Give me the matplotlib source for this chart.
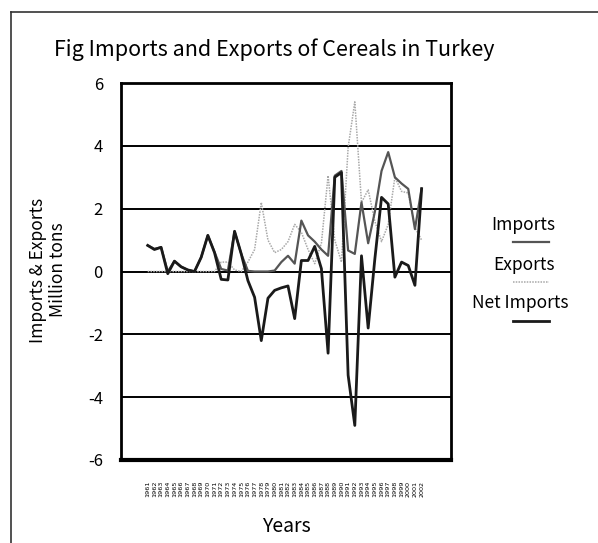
import matplotlib
matplotlib.use("Agg")
import matplotlib.pyplot as plt
from matplotlib.lines import Line2D

plt.rcParams['font.family'] = ['Noto Sans CJK JP', 'DejaVu Sans']

years = list(range(1961, 2003))
imports = [0.83, 0.72, 0.77, 0.0, 0.33, 0.15, 0.05, 0.0, 0.45, 1.15,
           0.62, 0.08, 0.03, 1.28, 0.56, 0.02, 0.0, 0.0, 0.0, 0.03,
           0.3, 0.5, 0.25, 1.62, 1.15, 0.95, 0.7, 0.5, 3.05, 3.2,
           0.67, 0.56, 2.2, 0.9, 1.9, 3.2, 3.8, 3.0, 2.8, 2.63,
           1.35, 2.65]
exports = [0.0, 0.0, 0.0, 0.0, 0.0, 0.0, 0.0, 0.0, 0.0, 0.0,
           0.0, 0.3, 0.3, 0.05, 0.0, 0.3, 0.7, 2.2, 1.0, 0.6,
           0.7, 0.95, 1.5, 1.25, 0.7, 0.25, 0.9, 3.05, 1.0, 0.3,
           3.95, 5.4, 2.2, 2.6, 1.6, 0.95, 1.5, 3.0, 2.55, 2.5,
           1.4, 1.0]
net_imports = [0.83, 0.7, 0.77, -0.07, 0.33, 0.15, 0.05, 0.0, 0.45, 1.15,
               0.6, -0.25, -0.27, 1.28, 0.56, -0.29, -0.82, -2.2, -0.85, -0.6,
               -0.52, -0.46, -1.5, 0.35, 0.35, 0.8, 0.09, -2.6, 3.0, 3.15,
               -3.3, -4.9, 0.5, -1.8, 0.4, 2.36, 2.15, -0.18, 0.3, 0.19,
               -0.44, 2.63]
yticks = [-6, -4, -2, 0, 2, 4, 6]

W, H = 598, 543
fig = plt.figure(figsize=(W / 100, H / 100), dpi=100)
ax = fig.add_axes([121 / W, 1 - 460 / H, (451 - 121) / W, (460 - 83) / H])

for y in yticks[1:-1]:
    ax.axhline(y, color='black', lw=1.4, zorder=1)

ax.plot(years, exports, color='#a8a8a8', lw=1.1, ls=(0, (1, 0.8)), zorder=2)
ax.plot(years, imports, color='#555555', lw=1.6, zorder=3)
ax.plot(years, net_imports, color='#1a1a1a', lw=2.0, zorder=4)

ax.set_xlim(1957.0, 2006.4)
ax.set_ylim(-6, 6)
ax.set_yticks(yticks)
ax.set_yticklabels([str(v) for v in yticks], fontsize=12)
ax.set_xticks(years)
ax.set_xticklabels([str(y) for y in years], rotation=90, fontsize=4.6,
                   family=['DejaVu Sans'])
ax.tick_params(axis='x', length=0, pad=15)
ax.tick_params(axis='y', length=0, pad=13)
for s in ax.spines.values():
    s.set_linewidth(2)
ax.spines['bottom'].set_linewidth(3)

fig.text(274 / W, 1 - 50 / H, 'Fig Imports and Exports of Cereals in Turkey',
         ha='center', va='center', fontsize=15.5)
fig.text(48 / W, 1 - 270 / H, 'Imports & Exports\nMillion tons', rotation=90,
         ha='center', va='center', fontsize=12.5, linespacing=1.2)
fig.text(286 / W, 1 - 527 / H, 'Years', ha='center', va='center', fontsize=14)

fig.text(523 / W, 1 - 225 / H, 'Imports', ha='center', va='center', fontsize=12.5)
fig.text(524 / W, 1 - 265 / H, 'Exports', ha='center', va='center', fontsize=12.5)
fig.text(520 / W, 1 - 303 / H, 'Net Imports', ha='center', va='center', fontsize=12.5)
fig.add_artist(Line2D([513 / W, 549 / W], [1 - 242 / H] * 2, color='#555555', lw=1.6))
fig.add_artist(Line2D([513 / W, 549 / W], [1 - 282 / H] * 2, color='#a8a8a8', lw=1.1, ls=(0, (1, 0.8))))
fig.add_artist(Line2D([513 / W, 549 / W], [1 - 321 / H] * 2, color='#1a1a1a', lw=2.0))

fig.add_artist(Line2D([11 / W, 11 / W], [0, 1 - 12 / H], color='#333333', lw=1.2))
fig.add_artist(Line2D([11 / W, 1], [1 - 12 / H] * 2, color='#333333', lw=1.2))

fig.savefig('out.png', dpi=100)
